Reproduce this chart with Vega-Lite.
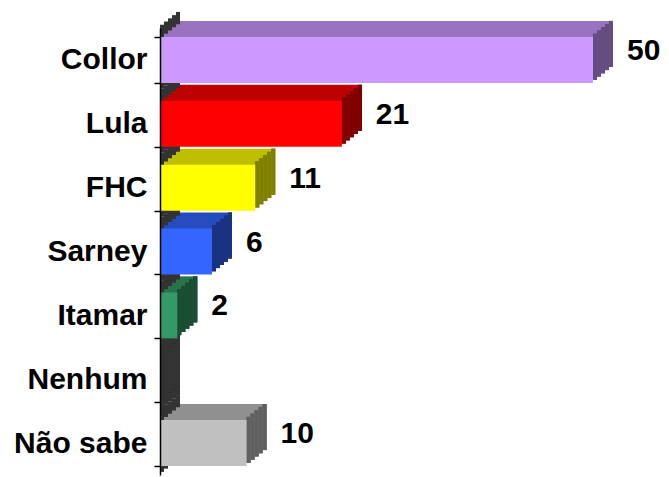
{
  "$schema": "https://vega.github.io/schema/vega-lite/v6.json",
  "width": 433,
  "height": 447,
  "autosize": {"type": "none"},
  "padding": {"left": 160, "top": 28, "right": 76, "bottom": 2},
  "background": "white",
  "config": {"view": {"stroke": null}},
  "data": {"values": [
    {"cat": "Collor", "value": 50},
    {"cat": "Lula", "value": 21},
    {"cat": "FHC", "value": 11},
    {"cat": "Sarney", "value": 6},
    {"cat": "Itamar", "value": 2},
    {"cat": "Nenhum", "value": 0},
    {"cat": "Não sabe", "value": 10}
  ]},
  "encoding": {
    "y": {"field": "cat", "type": "nominal", "scale": {"domain": ["Collor", "Lula", "FHC", "Sarney", "Itamar", "Nenhum", "Não sabe"], "paddingInner": 0.28, "paddingOuter": 0.14},
      "axis": {"title": null, "domainColor": "#000000", "domainWidth": 1.5, "tickColor": "#000000", "tickSize": 6, "tickWidth": 1.5, "tickBand": "extent", "labelFont": "Liberation Sans", "labelFontSize": 30, "labelFontWeight": "bold", "labelColor": "#000000", "labelPadding": 7, "zindex": 1}},
    "x": {"field": "value", "type": "quantitative", "scale": {"domain": [0, 50], "nice": false}, "axis": null}
  },
  "layer": [
    {"mark": {"type": "tick", "color": "#333333", "opacity": 1, "thickness": 4, "size": 64, "xOffset": 18, "yOffset": -16}, "encoding": {"x": {"datum": 0, "type": "quantitative"}}},
    {"mark": {"type": "tick", "color": "#333333", "opacity": 1, "thickness": 4, "size": 64, "xOffset": 14, "yOffset": -12.8}, "encoding": {"x": {"datum": 0, "type": "quantitative"}}},
    {"mark": {"type": "tick", "color": "#333333", "opacity": 1, "thickness": 4, "size": 64, "xOffset": 10, "yOffset": -9.6}, "encoding": {"x": {"datum": 0, "type": "quantitative"}}},
    {"mark": {"type": "tick", "color": "#333333", "opacity": 1, "thickness": 4, "size": 64, "xOffset": 6, "yOffset": -6.4}, "encoding": {"x": {"datum": 0, "type": "quantitative"}}},
    {"mark": {"type": "tick", "color": "#333333", "opacity": 1, "thickness": 4, "size": 64, "xOffset": 2, "yOffset": -3.2}, "encoding": {"x": {"datum": 0, "type": "quantitative"}}},
    {"mark": {"type": "bar", "xOffset": 20, "yOffset": -16}, "encoding": {"color": {"field": "cat", "type": "nominal", "scale": {"domain": ["Collor", "Lula", "FHC", "Sarney", "Itamar", "Nenhum", "Não sabe"], "range": ["#9973BF", "#BF0000", "#BFBF00", "#264CBF", "#26734C", "#333333", "#909090"]}, "legend": null}}},
    {"mark": {"type": "bar", "xOffset": 16, "yOffset": -12.8}, "encoding": {"color": {"field": "cat", "type": "nominal", "scale": {"domain": ["Collor", "Lula", "FHC", "Sarney", "Itamar", "Nenhum", "Não sabe"], "range": ["#9973BF", "#BF0000", "#BFBF00", "#264CBF", "#26734C", "#333333", "#909090"]}, "legend": null}}},
    {"mark": {"type": "bar", "xOffset": 12, "yOffset": -9.6}, "encoding": {"color": {"field": "cat", "type": "nominal", "scale": {"domain": ["Collor", "Lula", "FHC", "Sarney", "Itamar", "Nenhum", "Não sabe"], "range": ["#9973BF", "#BF0000", "#BFBF00", "#264CBF", "#26734C", "#333333", "#909090"]}, "legend": null}}},
    {"mark": {"type": "bar", "xOffset": 8, "yOffset": -6.4}, "encoding": {"color": {"field": "cat", "type": "nominal", "scale": {"domain": ["Collor", "Lula", "FHC", "Sarney", "Itamar", "Nenhum", "Não sabe"], "range": ["#9973BF", "#BF0000", "#BFBF00", "#264CBF", "#26734C", "#333333", "#909090"]}, "legend": null}}},
    {"mark": {"type": "bar", "xOffset": 4, "yOffset": -3.2}, "encoding": {"color": {"field": "cat", "type": "nominal", "scale": {"domain": ["Collor", "Lula", "FHC", "Sarney", "Itamar", "Nenhum", "Não sabe"], "range": ["#9973BF", "#BF0000", "#BFBF00", "#264CBF", "#26734C", "#333333", "#909090"]}, "legend": null}}},
    {"mark": {"type": "tick", "color": "#000000", "opacity": 1, "thickness": 4, "size": 46, "xOffset": 18, "yOffset": -16}},
    {"mark": {"type": "tick", "color": "#000000", "opacity": 1, "thickness": 4, "size": 46, "xOffset": 14, "yOffset": -12.8}},
    {"mark": {"type": "tick", "color": "#000000", "opacity": 1, "thickness": 4, "size": 46, "xOffset": 10, "yOffset": -9.6}},
    {"mark": {"type": "tick", "color": "#000000", "opacity": 1, "thickness": 4, "size": 46, "xOffset": 6, "yOffset": -6.4}},
    {"mark": {"type": "tick", "color": "#000000", "opacity": 1, "thickness": 4, "size": 46, "xOffset": 2, "yOffset": -3.2}},
    {"mark": {"type": "tick", "opacity": 0.5, "thickness": 4, "size": 46, "xOffset": 18, "yOffset": -16}, "encoding": {"fill": {"field": "cat", "type": "nominal", "scale": {"domain": ["Collor", "Lula", "FHC", "Sarney", "Itamar", "Nenhum", "Não sabe"], "range": ["#CC99FF", "#FF0000", "#FFFF00", "#3366FF", "#339966", "#666666", "#C0C0C0"]}, "legend": null}}},
    {"mark": {"type": "tick", "opacity": 0.5, "thickness": 4, "size": 46, "xOffset": 14, "yOffset": -12.8}, "encoding": {"fill": {"field": "cat", "type": "nominal", "scale": {"domain": ["Collor", "Lula", "FHC", "Sarney", "Itamar", "Nenhum", "Não sabe"], "range": ["#CC99FF", "#FF0000", "#FFFF00", "#3366FF", "#339966", "#666666", "#C0C0C0"]}, "legend": null}}},
    {"mark": {"type": "tick", "opacity": 0.5, "thickness": 4, "size": 46, "xOffset": 10, "yOffset": -9.6}, "encoding": {"fill": {"field": "cat", "type": "nominal", "scale": {"domain": ["Collor", "Lula", "FHC", "Sarney", "Itamar", "Nenhum", "Não sabe"], "range": ["#CC99FF", "#FF0000", "#FFFF00", "#3366FF", "#339966", "#666666", "#C0C0C0"]}, "legend": null}}},
    {"mark": {"type": "tick", "opacity": 0.5, "thickness": 4, "size": 46, "xOffset": 6, "yOffset": -6.4}, "encoding": {"fill": {"field": "cat", "type": "nominal", "scale": {"domain": ["Collor", "Lula", "FHC", "Sarney", "Itamar", "Nenhum", "Não sabe"], "range": ["#CC99FF", "#FF0000", "#FFFF00", "#3366FF", "#339966", "#666666", "#C0C0C0"]}, "legend": null}}},
    {"mark": {"type": "tick", "opacity": 0.5, "thickness": 4, "size": 46, "xOffset": 2, "yOffset": -3.2}, "encoding": {"fill": {"field": "cat", "type": "nominal", "scale": {"domain": ["Collor", "Lula", "FHC", "Sarney", "Itamar", "Nenhum", "Não sabe"], "range": ["#CC99FF", "#FF0000", "#FFFF00", "#3366FF", "#339966", "#666666", "#C0C0C0"]}, "legend": null}}},
    {"mark": {"type": "bar"}, "encoding": {"fill": {"field": "cat", "type": "nominal", "scale": {"domain": ["Collor", "Lula", "FHC", "Sarney", "Itamar", "Nenhum", "Não sabe"], "range": ["#CC99FF", "#FF0000", "#FFFF00", "#3366FF", "#339966", "#666666", "#C0C0C0"]}, "legend": null}}},
    {"mark": {"type": "text", "align": "left", "baseline": "middle", "dx": 34, "dy": -9, "font": "Liberation Sans", "fontSize": 30, "fontWeight": "bold", "color": "#000000"}, "encoding": {"text": {"condition": {"test": "datum.value == 0", "value": ""}, "field": "value", "type": "quantitative"}}}
  ]
}
